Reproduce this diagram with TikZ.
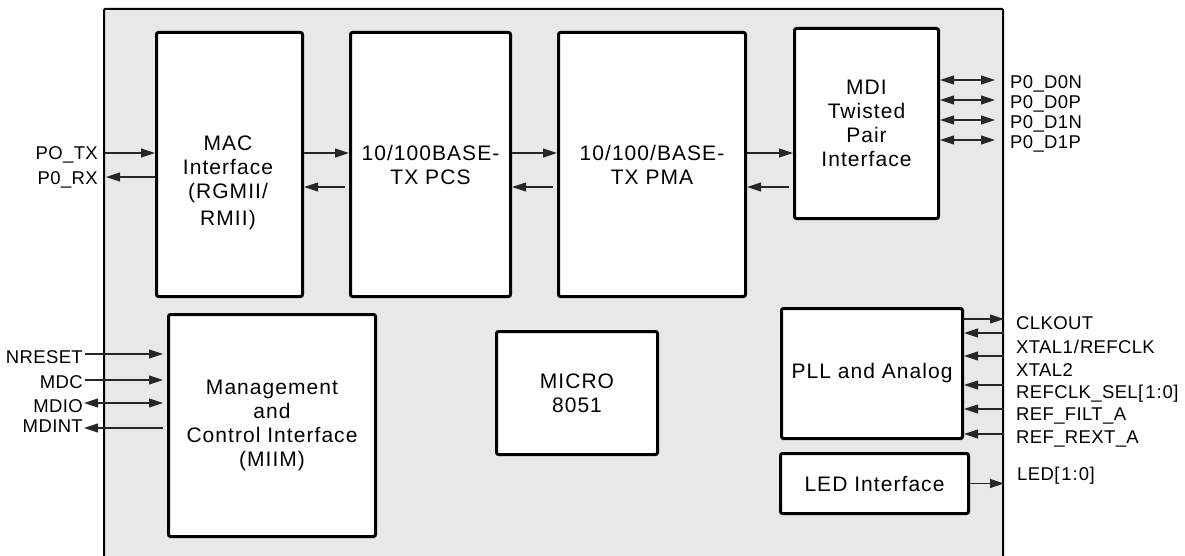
\documentclass[tikz,border=0pt]{standalone}
\usepackage{fontspec}
\setmainfont{Liberation Sans}
\newfontfamily\blkfont[LetterSpace=5]{Liberation Sans}
\newfontfamily\lblfont[LetterSpace=2]{Liberation Sans}
\usetikzlibrary{arrows.meta,calc}
\definecolor{bggray}{HTML}{E8E8E8}
\tikzset{
  blk/.style={draw, line width=3pt, fill=white, rounded corners=2pt, anchor=north west,
    inner sep=0pt, align=center, font={\blkfont\fontsize{21}{24}\selectfont}},
  txt/.style={inner sep=0pt, align=center, font={\blkfont\fontsize{21}{24}\selectfont}},
  lbl/.style={inner sep=0pt, font={\lblfont\fontsize{18.5}{20}\selectfont}},
  arr/.style={-{Triangle[length=14pt,width=9pt]}, line width=1.1pt, draw=black!85},
  darr/.style={{Triangle[length=14pt,width=9pt]}-{Triangle[length=14pt,width=9pt]}, line width=1.1pt, draw=black!85}
}
\begin{document}
\begin{tikzpicture}[x=1pt,y=-1pt]
\useasboundingbox (0,0) rectangle (1185,556);
\clip (0,0) rectangle (1185,556);
\fill[white] (0,0) rectangle (1185,556);
\node[draw, line width=2pt, fill=bggray, rounded corners=1pt, anchor=north west, inner sep=0pt,
  minimum width=899pt, minimum height=620pt] (chip) at (103,8) {};

% blocks
\node[blk, minimum width=146pt, minimum height=264pt] (mac) at (155,31) {};
\node[txt] (mact) at (228,183) {MAC\\Interface\\(RGMII/\\[3pt]RMII)};
\node[blk, minimum width=160pt, minimum height=264pt] (pcs) at (349,31) {10/100BASE-\\TX PCS};
\node[blk, minimum width=187pt, minimum height=264pt] (pma) at (557,31) {10/100/BASE-\\TX PMA};
\node[blk, minimum width=144pt, minimum height=190pt] (mdi) at (793,27) {MDI\\Twisted\\Pair\\Interface};
\node[blk, minimum width=207pt, minimum height=222pt] (mgmt) at (167,313) {Management\\and\\Control Interface\\(MIIM)};
\node[blk, minimum width=161pt, minimum height=123pt] (micro) at (495,330) {MICRO\\8051};
\node[blk, minimum width=181pt, minimum height=130pt] (pll) at (780,307) {PLL and Analog};
\node[blk, minimum width=188pt, minimum height=60pt] (led) at (779,452) {LED Interface};

% top data path
\draw[arr] (mac.east |- 0,153) -- (pcs.west |- 0,153);
\draw[arr] ($(pcs.west |- 0,187)+(-4,0)$) -- (mac.east |- 0,187);
\draw[arr] (pcs.east |- 0,153) -- (pma.west |- 0,153);
\draw[arr] ($(pma.west |- 0,187)+(-4,0)$) -- (pcs.east |- 0,187);
\draw[arr] (pma.east |- 0,153) -- (mdi.west |- 0,153);
\draw[arr] ($(mdi.west |- 0,187)+(-4,0)$) -- (pma.east |- 0,187);

% left MAC labels
\node[lbl, anchor=base east] (potx) at (98,160) {PO\_TX};
\node[lbl, anchor=base east] (porx) at (98,185) {P0\_RX};
\draw[arr] ($(potx.east |- 0,153)+(7,0)$) -- (mac.west |- 0,153);
\draw[arr] (mac.west |- 0,177) -- ($(porx.east |- 0,177)+(8,0)$);

% MDI labels
\node[lbl, anchor=base west] (d0n) at (1010,89) {P0\_D0N};
\node[lbl, anchor=base west] (d0p) at (1010,109) {P0\_D0P};
\node[lbl, anchor=base west] (d1n) at (1010,129) {P0\_D1N};
\node[lbl, anchor=base west] (d1p) at (1010,149) {P0\_D1P};
\draw[darr] (mdi.east |- 0,80) -- ($(chip.east |- 0,80)+(-9,0)$);
\draw[darr] (mdi.east |- 0,100) -- ($(chip.east |- 0,100)+(-9,0)$);
\draw[darr] (mdi.east |- 0,120) -- ($(chip.east |- 0,120)+(-9,0)$);
\draw[darr] (mdi.east |- 0,140) -- ($(chip.east |- 0,140)+(-9,0)$);

% management labels
\node[lbl, anchor=base east] (nreset) at (83,363) {NRESET};
\node[lbl, anchor=base east] (mdc) at (83,388) {MDC};
\node[lbl, anchor=base east] (mdio) at (83,412) {MDIO};
\node[lbl, anchor=base east] (mdint) at (83,432) {MDINT};
\draw[arr] ($(nreset.east |- 0,354)+(2,0)$) -- ($(mgmt.west |- 0,354)+(-4,0)$);
\draw[arr] ($(mdc.east |- 0,380)+(2,0)$) -- ($(mgmt.west |- 0,380)+(-4,0)$);
\draw[darr] ($(mdio.east |- 0,403)+(1,0)$) -- ($(mgmt.west |- 0,403)+(-4,0)$);
\draw[arr] ($(mgmt.west |- 0,428)+(-4,0)$) -- ($(mdint.east |- 0,428)+(1,0)$);

% PLL labels
\node[lbl, anchor=base west] (clkout) at (1016,329) {CLKOUT};
\node[lbl, anchor=base west] (xtal1) at (1016,353) {XTAL1\kern1pt/\kern1pt REFCLK};
\node[lbl, anchor=base west] (xtal2) at (1016,376) {XTAL2};
\node[lbl, anchor=base west] (refsel) at (1016,398) {REFCLK\_SEL[\kern2pt1\kern1pt:\kern1pt0]};
\node[lbl, anchor=base west] (filt) at (1016,420) {REF\_FILT\_A};
\node[lbl, anchor=base west] (rext) at (1016,443) {REF\_REXT\_A};
\draw[arr] (pll.east |- 0,319) -- (chip.east |- 0,319);
\draw[arr] (chip.east |- 0,333) -- (pll.east |- 0,333);
\draw[arr] (chip.east |- 0,356) -- (pll.east |- 0,356);
\draw[arr] (chip.east |- 0,385) -- (pll.east |- 0,385);
\draw[arr] (chip.east |- 0,409) -- (pll.east |- 0,409);
\draw[arr] (chip.east |- 0,434) -- (pll.east |- 0,434);

% LED
\node[lbl, anchor=base west] (ledl) at (1017,480) {LED[\kern2pt1\kern1pt:\kern1pt0]};
\draw[arr] (led.east) -- (chip.east |- led.east);
\end{tikzpicture}
\end{document}
